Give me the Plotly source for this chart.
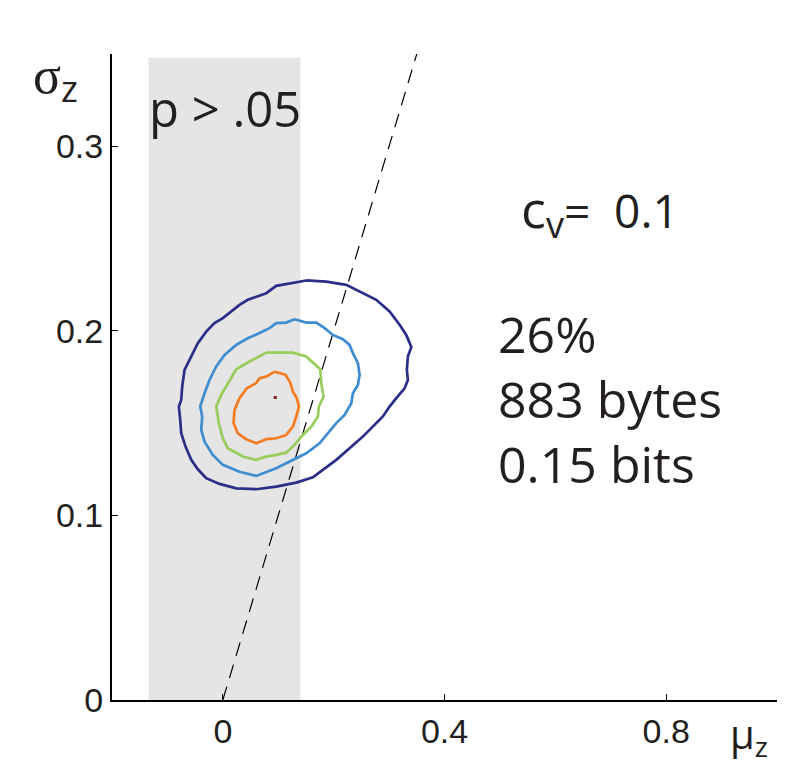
import plotly.graph_objects as go

# ---- data (mu_z, sigma_z) ----
outer_mu = [0.1505, 0.1866, 0.2227, 0.2468, 0.2769, 0.3009, 0.3190, 0.3310, 0.3401, 0.3339, 0.3321, 0.3339,
            0.3280, 0.3130, 0.3009, 0.2888, 0.2708, 0.2527, 0.2287, 0.2047, 0.1805, 0.1625, 0.1325, 0.0964,
            0.0603, 0.0242, -0.0060, -0.0300, -0.0451, -0.0570, -0.0673, -0.0751, -0.0769, -0.0794, -0.0751,
            -0.0733, -0.0691, -0.0570, -0.0451, -0.0300, -0.0150, 0.0000, 0.0152, 0.0301, 0.0451, 0.0603,
            0.0783, 0.0964, 0.1264, 0.1505]
outer_sigma = [0.2273, 0.2267, 0.2249, 0.2213, 0.2168, 0.2105, 0.2033, 0.1978, 0.1912, 0.1861, 0.1789, 0.1734,
               0.1689, 0.1635, 0.1590, 0.1536, 0.1481, 0.1427, 0.1364, 0.1301, 0.1247, 0.1207, 0.1178, 0.1156,
               0.1142, 0.1147, 0.1171, 0.1202, 0.1250, 0.1301, 0.1373, 0.1445, 0.1518, 0.1590, 0.1626,
               0.1698, 0.1789, 0.1861, 0.1933, 0.1996, 0.2042, 0.2069, 0.2105, 0.2141, 0.2168, 0.2183,
               0.2204, 0.2244, 0.2262, 0.2273]

blue_mu = [0.1294, 0.1505, 0.1686, 0.1836, 0.1986, 0.2166, 0.2287, 0.2347, 0.2437, 0.2468, 0.2437, 0.2347,
           0.2318, 0.2197, 0.2047, 0.1895, 0.1745, 0.1505, 0.1264, 0.0964, 0.0603, 0.0301, 0.0000, -0.0181,
           -0.0330, -0.0390, -0.0372, -0.0408, -0.0330, -0.0240, -0.0119, 0.0031, 0.0242, 0.0451, 0.0662,
           0.0843, 0.0964, 0.1144, 0.1294]
blue_sigma = [0.2063, 0.2045, 0.2045, 0.2015, 0.1978, 0.1955, 0.1924, 0.1879, 0.1825, 0.1762, 0.1707, 0.1662,
              0.1608, 0.1545, 0.1500, 0.1445, 0.1391, 0.1337, 0.1301, 0.1256, 0.1214, 0.1237, 0.1274, 0.1328,
              0.1400, 0.1463, 0.1536, 0.1590, 0.1662, 0.1734, 0.1807, 0.1870, 0.1924, 0.1960, 0.1988,
              0.2015, 0.2042, 0.2045, 0.2063]

green_mu = [0.0783, 0.1264, 0.1505, 0.1758, 0.1776, 0.1818, 0.1733, 0.1715, 0.1596, 0.1444, 0.1294, 0.1144,
            0.0964, 0.0783, 0.0603, 0.0361, 0.0090, 0.0000, -0.0072, -0.0119, -0.0029, 0.0090, 0.0242,
            0.0482, 0.0783]
green_sigma = [0.1882, 0.1882, 0.1861, 0.1792, 0.1717, 0.1644, 0.1590, 0.1536, 0.1481, 0.1436, 0.1382, 0.1340,
               0.1328, 0.1319, 0.1301, 0.1319, 0.1364, 0.1418, 0.1500, 0.1590, 0.1653, 0.1717, 0.1792,
               0.1834, 0.1882]

orange_mu = [0.0933, 0.1132, 0.1217, 0.1264, 0.1336, 0.1372, 0.1325, 0.1264, 0.1144, 0.0964, 0.0783, 0.0603,
             0.0422, 0.0271, 0.0193, 0.0211, 0.0301, 0.0433, 0.0603, 0.0662, 0.0783, 0.0933]
orange_sigma = [0.1779, 0.1762, 0.1720, 0.1671, 0.1635, 0.1590, 0.1536, 0.1481, 0.1436, 0.1418, 0.1413, 0.1391,
                0.1413, 0.1445, 0.1500, 0.1572, 0.1635, 0.1689, 0.1717, 0.1744, 0.1752, 0.1779]

peak_mu = [0.0946]
peak_sigma = [0.1639]

diag_mu = [0.0, 0.35]
diag_sigma = [0.0, 0.35]

shade_mu = [-0.134, 0.140]
shade_sigma_top = 0.348

x_ticks = [0, 0.4, 0.8]
x_ticktext = ["0", "0.4", "0.8"]
y_ticks = [0, 0.1, 0.2, 0.3]
y_ticktext = ["0", "0.1", "0.2", "0.3"]

fig = go.Figure()

fig.add_shape(type="rect", xref="x", yref="y", x0=shade_mu[0], x1=shade_mu[1], y0=0, y1=shade_sigma_top,
              fillcolor="#E5E5E5", line=dict(width=0), layer="below")

fig.add_trace(go.Scatter(x=diag_mu, y=diag_sigma, mode="lines",
                         line=dict(color="black", width=1.2, dash="14px,9px"), hoverinfo="skip"))

for xs, ys, col in [(outer_mu, outer_sigma, "#2A2E86"), (blue_mu, blue_sigma, "#3F8DD0"),
                    (green_mu, green_sigma, "#98CC5B"), (orange_mu, orange_sigma, "#F57B22")]:
    fig.add_trace(go.Scatter(x=xs, y=ys, mode="lines", line=dict(color=col, width=2.7)))

fig.add_trace(go.Scatter(x=peak_mu, y=peak_sigma, mode="markers",
                         marker=dict(symbol="square", size=3, color="#8B1A1A")))

TXT = "Open Sans"
INK = "#231F20"
fig.add_annotation(x=-0.137, y=0.321, xref="x", yref="y", text="p > .05", showarrow=False,
                   xanchor="left", yanchor="middle", font=dict(family=TXT, size=49, color=INK))
fig.add_annotation(x=0.535, y=0.265, xref="x", yref="y",
                   text="<span style='font-size:52px'>c</span><sub><span style='font-size:36px'>v</span></sub>"
                        "<span style='font-size:46px'>=\u00a0\u00a00.1</span>",
                   showarrow=False, xanchor="left", yanchor="middle",
                   font=dict(family=TXT, size=46, color=INK))
fig.add_annotation(x=0.493, y=0.163, xref="x", yref="y",
                   text="26%<br>883 bytes<br>0.15 bits", showarrow=False, align="left",
                   xanchor="left", yanchor="middle", font=dict(family=TXT, size=50, color=INK))

fig.add_annotation(x=-0.122, y=0.96, xref="paper", yref="paper",
                   text="<span style='font-family:Liberation Serif;font-size:52px'>σ</span>"
                        "<sub><span style='font-size:36px'>z</span></sub>",
                   showarrow=False, xanchor="left", yanchor="middle",
                   font=dict(family=TXT, size=44, color=INK))
fig.add_annotation(x=0.927, y=-0.055, xref="paper", yref="paper",
                   text="μ<sub><span style='font-size:28px'>z</span></sub>", showarrow=False,
                   xanchor="left", yanchor="middle",
                   font=dict(family=TXT, size=40, color=INK))

axis_common = dict(showline=True, linecolor="black", linewidth=2, ticks="inside", ticklen=6,
                   tickcolor="black", tickwidth=1, showgrid=False, zeroline=False,
                   tickfont=dict(family="Liberation Sans", size=34, color=INK))
fig.update_xaxes(range=[-0.2, 1.0], tickvals=x_ticks, ticktext=x_ticktext, **axis_common)
fig.update_yaxes(range=[0, 0.35], tickvals=y_ticks, ticktext=y_ticktext, **axis_common)

fig.update_layout(width=788, height=764, margin=dict(l=112, r=11, t=54, b=64),
                  plot_bgcolor="white", paper_bgcolor="white", showlegend=False)

fig.write_html("out.html")
